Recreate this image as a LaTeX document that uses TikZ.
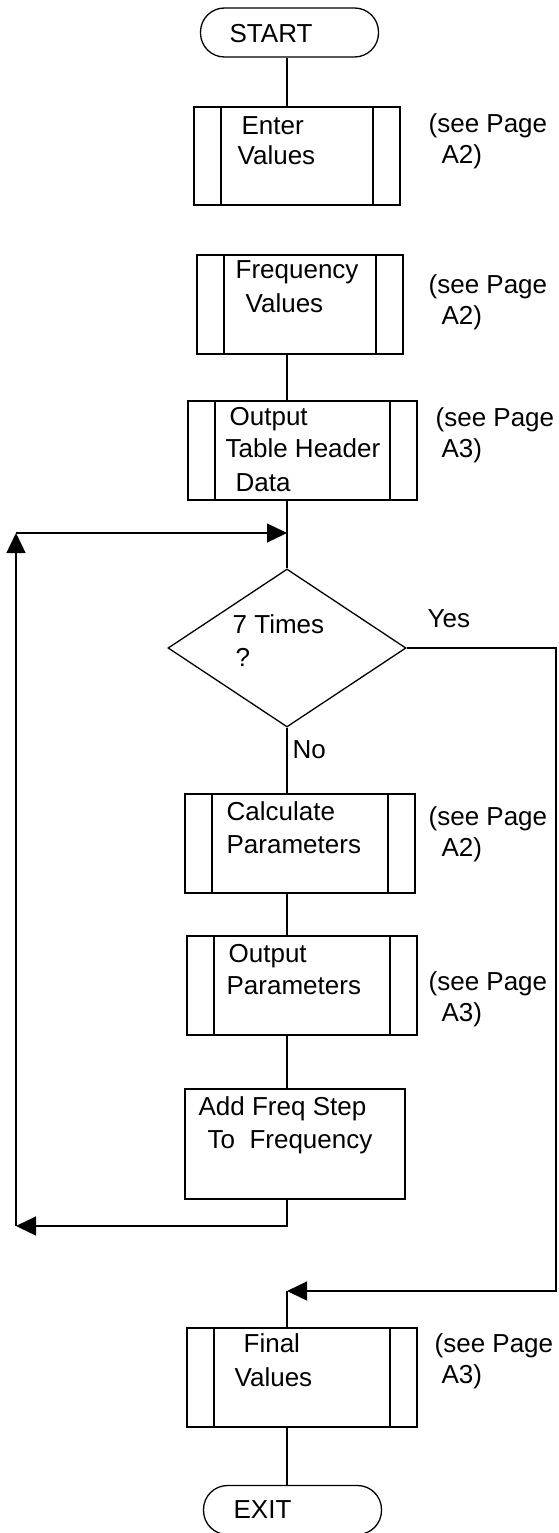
\documentclass[tikz,border=0pt]{standalone}
\usepackage{fontspec}
\setmainfont{Liberation Sans}
\usetikzlibrary{shapes.geometric,arrows.meta}

\begin{document}
\begin{tikzpicture}[x=1pt,y=-1pt,line width=1.3pt,font=\fontsize{26}{31}\selectfont,
    arr/.style={-{Triangle[length=20pt,width=19pt]}},
    term/.style={draw,rectangle,rounded corners=24pt,minimum width=178pt,minimum height=49pt,inner sep=0pt},
    subproc/.style={draw,rectangle,inner sep=0pt,minimum height=99pt,path picture={
        \draw ([xshift=27pt]path picture bounding box.north west) -- ([xshift=27pt]path picture bounding box.south west);
        \draw ([xshift=-27pt]path picture bounding box.north east) -- ([xshift=-27pt]path picture bounding box.south east);}},
    txt/.style={inner sep=0pt,anchor=base west}]
    \useasboundingbox (0,0) rectangle (558,1533);
    % shapes
    \node[term] (start) at (289.5,32.5) {};
    \node[subproc,minimum width=206pt,minimum height=98pt] (enter) at (297,156) {};
    \node[subproc,minimum width=206pt] (freq) at (300,304.5) {};
    \node[subproc,minimum width=229pt] (header) at (302.5,450.5) {};
    \node[draw,diamond,inner sep=0pt,aspect=1.5,minimum width=238pt,minimum height=158pt] (decide) at (287,648) {};
    \node[subproc,minimum width=230pt] (calc) at (300,843.5) {};
    \node[subproc,minimum width=230pt] (outp) at (302,985.5) {};
    \node[draw,rectangle,minimum width=220pt,minimum height=110pt] (addf) at (295,1144) {};
    \node[subproc,minimum width=230pt] (final) at (302,1377.5) {};
    \node[term] (exit) at (292.5,1510) {};
    % texts
    \foreach \x/\y/\t [count=\n] in {229/43/START, 241/135/Enter, 237/165/Values,
        235/278/Frequency, 245/312/Values, 229/425/Output, 225/457/Table Header, 235/491/Data,
        232/633/7 Times, 235/666/?, 427/627/Yes, 292/758/No,
        226/820/Calculate, 226/853/Parameters, 228/962/Output, 226/994/Parameters,
        198/1115/Add Freq Step, 207/1148/To\ \ Frequency, 243/1352/Final, 234/1386/Values,
        233/1518/EXIT} {
        \node[txt] (L\n) at (\x,\y) {\t};
    }
    \foreach \x/\y/\p [count=\n] in {428/133/A2, 428/293/A2, 435/426/A3, 428/825/A2, 428/990/A3, 434/1352/A3} {
        \node[txt] (S\n) at (\x,\y) {(see Page};
        \node[txt] (P\n) at (441,\y+31) {\p)};
    }
    % connectors
    \coordinate (spine) at (287,0);
    \coordinate (lb) at (16,1226);
    \coordinate (lt) at (16,533);
    \coordinate (ydown) at (556,1291);
    \draw (spine |- start.south) -- (spine |- enter.north);
    \draw (spine |- freq.south) -- (spine |- header.north);
    \draw (spine |- header.south) -- (decide.north);
    \draw (decide.south) -- (spine |- calc.north);
    \draw (spine |- calc.south) -- (spine |- outp.north);
    \draw (spine |- outp.south) -- (spine |- addf.north);
    \draw[arr] (spine |- addf.south) |- (lb);
    \draw[arr] (lb) -- (lt);
    \draw[arr] (lt) -- (spine |- lt);
    \draw[arr] (decide.east) -| (ydown) -- (spine |- ydown);
    \draw (spine |- ydown) -- (spine |- final.north);
    \draw (spine |- final.south) -- (spine |- exit.north);
\end{tikzpicture}
\end{document}
